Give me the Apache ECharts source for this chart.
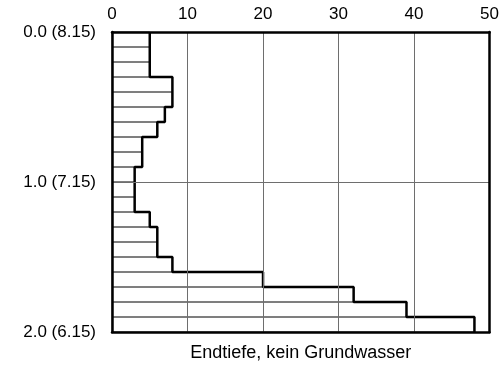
<!DOCTYPE html>
<html>
<head>
<meta charset="utf-8">
<script src="https://cdn.jsdelivr.net/npm/echarts@6/dist/echarts.min.js"></script>
<style>html,body{margin:0;padding:0;background:#fff}#c{width:502px;height:367px}</style>
</head>
<body>
<div id="c"></div>
<script>
// Layer tops (m below ground) and blow counts per 10 cm
const depthTop = [0.0,0.1,0.2,0.3,0.4,0.5,0.6,0.7,0.8,0.9,1.0,1.1,1.2,1.3,1.4,1.5,1.6,1.7,1.8,1.9];
const blows    = [5,5,5,8,8,7,6,4,4,3,3,3,5,6,6,8,20,32,39,48];
const layerThickness = 0.1;
const xTicks = [0,10,20,30,40,50];
const yTickLabels = {0:'0.0 (8.15)', 1:'1.0 (7.15)', 2:'2.0 (6.15)'};
const bottomText = 'Endtiefe, kein Grundwasser';

const FONT = '"Liberation Sans", Arial, Helvetica, sans-serif';
const chart = echarts.init(document.getElementById('c'), null, {renderer:'canvas'});

const barData = blows.map((v,i)=>[v, depthTop[i]]);
const outline = [];
blows.forEach((v,i)=>{ outline.push([v, depthTop[i]]); outline.push([v, depthTop[i]+layerThickness]); });

const frameLine = {show:true, onZero:false, lineStyle:{color:'#000', width:2.5}};

chart.setOption({
  animation:false,
  backgroundColor:'#fff',
  grid:{left:112, right:12, top:32, bottom:33, show:false},
  xAxis:[
    {type:'value', position:'top', min:xTicks[0], max:xTicks[xTicks.length-1], interval:10, z:5,
     axisLine:frameLine,
     axisTick:{show:false},
     axisLabel:{color:'#000', fontSize:17, fontFamily:FONT, margin:9},
     splitLine:{show:true, lineStyle:{color:'#6e6e6e', width:1}}},
    {type:'value', position:'bottom', min:0, max:50, interval:10, z:5,
     axisLine:frameLine,
     axisTick:{show:false}, axisLabel:{show:false}, splitLine:{show:false},
     name:bottomText, nameLocation:'middle', nameGap:12,
     nameTextStyle:{color:'#000', fontSize:18, fontFamily:FONT, verticalAlign:'top'}}
  ],
  yAxis:[
    {type:'value', inverse:true, min:0, max:2, interval:1, z:5,
     axisLine:frameLine,
     axisTick:{show:false},
     axisLabel:{color:'#000', fontSize:17, fontFamily:FONT, margin:16,
       formatter:(v)=>yTickLabels[Math.round(v)] || ''},
     splitLine:{show:true, lineStyle:{color:'#6e6e6e', width:1}}},
    {type:'value', inverse:true, min:0, max:2, interval:1, position:'right', z:5,
     axisLine:frameLine,
     axisTick:{show:false}, axisLabel:{show:false}, splitLine:{show:false}}
  ],
  series:[
    {type:'custom', xAxisIndex:0, yAxisIndex:0, z:2, data:barData,
     renderItem:(params, api)=>{
       const v = api.value(0), d = api.value(1);
       const p0 = api.coord([0, d]);
       const p1 = api.coord([v, d + layerThickness]);
       return {type:'rect',
         shape:{x:p0[0], y:p0[1], width:p1[0]-p0[0], height:p1[1]-p0[1]},
         style:{fill:'rgba(0,0,0,0)', stroke:'#555', lineWidth:1}};
     }},
    {type:'line', xAxisIndex:0, yAxisIndex:0, z:3, data:outline, symbol:'none',
     lineStyle:{color:'#000', width:2.5}}
  ]
});
</script>
</body>
</html>
